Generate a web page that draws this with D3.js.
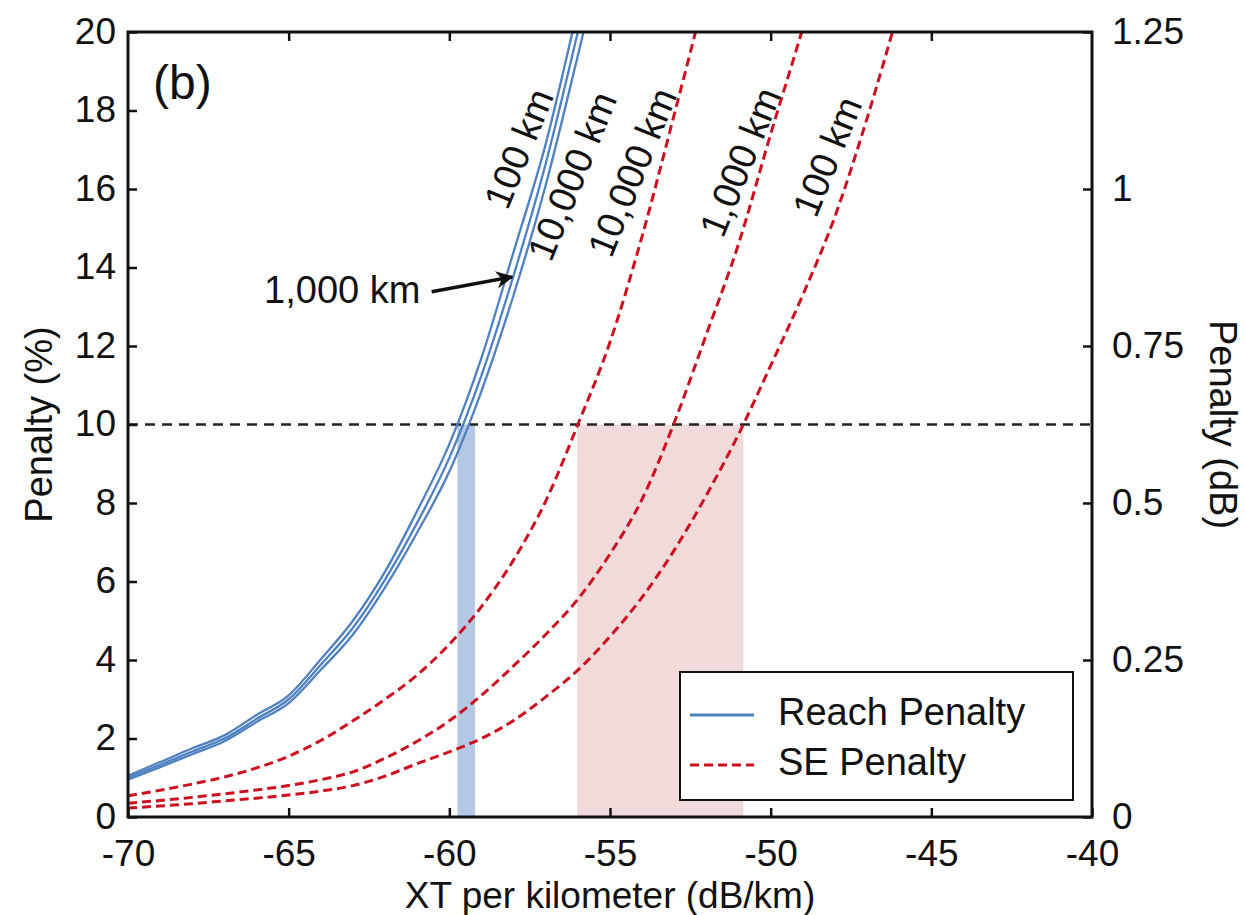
<!DOCTYPE html>
<html>
<head>
<meta charset="utf-8">
<script src="https://cdn.jsdelivr.net/npm/d3@7"></script>
<style>
  body { margin: 0; background: #fff; }
  svg text { font-family: "Liberation Sans", Arial, sans-serif; fill: #111; }
</style>
</head>
<body>
<div id="myChart"></div>
<script>
// XT per km values where curves are sampled
var xtValues = [-70, -69, -68, -67, -66, -65, -64, -63, -62, -61, -60, -59, -58, -57, -56, -55, -54, -53, -52, -51, -50, -49, -48, -47, -46, -45];

// Reach penalty (%), three lengths (solid blue)
var reach100   = [1.05, 1.40, 1.75, 2.08, 2.60, 3.10, 4.02, 5.00, 6.25, 7.80, 9.50, 11.70, 14.40, 17.15, 20.60, 24.2, 28, 32, 36, 40, 44, 48, 52, 56, 60, 64];
var reach1000  = [1.00, 1.33, 1.67, 2.00, 2.50, 3.00, 3.88, 4.82, 6.05, 7.50, 9.15, 11.25, 13.80, 16.65, 20.00, 23.5, 27, 31, 35, 39, 43, 47, 51, 55, 59, 63];
var reach10000 = [0.95, 1.27, 1.60, 1.93, 2.42, 2.90, 3.75, 4.65, 5.85, 7.25, 8.80, 10.85, 13.30, 16.10, 19.40, 22.8, 26, 30, 34, 38, 42, 46, 50, 54, 58, 62];

// SE penalty (%), three lengths (dashed red)
var se10000 = [0.54, 0.68, 0.84, 1.02, 1.25, 1.55, 1.95, 2.45, 3.00, 3.62, 4.40, 5.36, 6.55, 8.05, 10.00, 12.10, 14.80, 17.90, 21.10, 24.5, 28, 32, 36, 40, 44, 48];
var se1000  = [0.35, 0.42, 0.50, 0.59, 0.69, 0.80, 0.95, 1.15, 1.50, 1.93, 2.45, 3.10, 3.85, 4.65, 5.55, 6.70, 8.10, 10.05, 12.30, 14.60, 17.40, 20.10, 23.0, 26, 29, 32];
var se100   = [0.23, 0.28, 0.34, 0.41, 0.48, 0.56, 0.66, 0.80, 1.04, 1.36, 1.66, 2.00, 2.46, 3.06, 3.74, 4.60, 5.60, 6.80, 8.20, 9.75, 11.50, 13.30, 15.30, 17.80, 20.60, 23.5];

var xTicks = [-70, -65, -60, -55, -50, -45, -40];
var yTicks = [0, 2, 4, 6, 8, 10, 12, 14, 16, 18, 20];
var dbTicks = [0, 0.25, 0.5, 0.75, 1, 1.25];
var dbTickLabels = ["0", "0.25", "0.5", "0.75", "1", "1.25"];

var threshold = 10;
var reachBand = [-59.75, -59.2];
var seBand = [-56.02, -50.85];

// curve labels: [text, xt, penalty]
var curveLabels = [
  ["100 km", -57.75, 17.0],
  ["10,000 km", -56.09, 16.3],
  ["10,000 km", -54.22, 16.4],
  ["1,000 km", -50.86, 16.66],
  ["100 km", -48.15, 16.8]
];

var blue = "#4f80c0";
var red = "#cc1020";

var width = 1246, height = 915;
var margin = {left: 128, right: 154, top: 32, bottom: 98};

var svg = d3.select("#myChart").append("svg")
  .attr("width", width)
  .attr("height", height);

var x = d3.scaleLinear().domain([-70, -40]).range([margin.left, width - margin.right]);
var y = d3.scaleLinear().domain([0, 20]).range([height - margin.bottom, margin.top]);
var yDb = d3.scaleLinear().domain([0, 1.25]).range([height - margin.bottom, margin.top]);

svg.append("clipPath").attr("id", "plotClip")
  .append("rect")
  .attr("x", x(-70)).attr("y", y(20))
  .attr("width", x(-40) - x(-70)).attr("height", y(0) - y(20));

var plot = svg.append("g").attr("clip-path", "url(#plotClip)");

// shaded bands below threshold
plot.append("rect")
  .attr("x", x(seBand[0])).attr("y", y(threshold))
  .attr("width", x(seBand[1]) - x(seBand[0]))
  .attr("height", y(0) - y(threshold))
  .attr("fill", "#f0dada");
plot.append("rect")
  .attr("x", x(reachBand[0])).attr("y", y(threshold))
  .attr("width", x(reachBand[1]) - x(reachBand[0]))
  .attr("height", y(0) - y(threshold))
  .attr("fill", "#b4c8e4");

// threshold line
plot.append("line")
  .attr("x1", x(-70)).attr("x2", x(-40))
  .attr("y1", y(threshold)).attr("y2", y(threshold))
  .attr("stroke", "#222").attr("stroke-width", 2.5)
  .attr("stroke-dasharray", "10,7");

var line = d3.line()
  .x(function(d, i) { return x(xtValues[i]); })
  .y(function(d) { return y(d); })
  .curve(d3.curveMonotoneX);

[se10000, se1000, se100].forEach(function(s) {
  plot.append("path")
    .attr("d", line(s))
    .attr("fill", "none")
    .attr("stroke", red).attr("stroke-width", 3)
    .attr("stroke-dasharray", "9,5");
});

[reach100, reach1000, reach10000].forEach(function(s) {
  plot.append("path")
    .attr("d", line(s))
    .attr("fill", "none")
    .attr("stroke", blue).attr("stroke-width", 2.3);
});

// axes frame
var axisColor = "#111";
function plain(d) { return String(d); } // keep the plain hyphen minus
function styleAxis(g) {
  g.select(".domain").remove();
  g.selectAll(".tick line").attr("stroke", axisColor).attr("stroke-width", 2.5);
  g.selectAll(".tick text").attr("font-size", 37).attr("fill", "#222");
}

svg.append("g")
  .attr("transform", "translate(0," + y(0) + ")")
  .call(d3.axisBottom(x).tickValues(xTicks).tickSize(-9).tickPadding(20).tickFormat(plain))
  .call(styleAxis)
  .selectAll(".tick text").attr("dy", "0.78em");

svg.append("g")
  .attr("transform", "translate(0," + y(20) + ")")
  .call(d3.axisTop(x).tickValues(xTicks.slice(1, -1)).tickSize(-9).tickFormat(""))
  .call(styleAxis);

svg.append("g")
  .attr("transform", "translate(" + x(-70) + ",0)")
  .call(d3.axisLeft(y).tickValues(yTicks).tickSize(-9).tickPadding(12).tickFormat(plain))
  .call(styleAxis)
  .selectAll(".tick text").attr("dy", "0.3em");

svg.append("g")
  .attr("transform", "translate(" + x(-40) + ",0)")
  .call(d3.axisRight(yDb).tickValues(dbTicks).tickSize(-9).tickPadding(20)
    .tickFormat(function(d, i) { return dbTickLabels[i]; }))
  .call(styleAxis)
  .selectAll(".tick text").attr("dy", "0.3em");

svg.append("rect")
  .attr("x", x(-70)).attr("y", y(20))
  .attr("width", x(-40) - x(-70)).attr("height", y(0) - y(20))
  .attr("fill", "none").attr("stroke", axisColor).attr("stroke-width", 3);

// axis titles
svg.append("text")
  .attr("x", (x(-70) + x(-40)) / 2).attr("y", 908)
  .attr("text-anchor", "middle").attr("font-size", 37)
  .text("XT per kilometer (dB/km)");

svg.append("text")
  .attr("transform", "translate(52," + y(10) + ") rotate(-90)")
  .attr("text-anchor", "middle").attr("font-size", 38)
  .text("Penalty (%)");

svg.append("text")
  .attr("transform", "translate(1210," + y(10) + ") rotate(90)")
  .attr("text-anchor", "middle").attr("font-size", 38)
  .text("Penalty (dB)");

// panel label
svg.append("text")
  .attr("x", x(-70) + 25).attr("y", y(20) + 67)
  .attr("font-size", 48)
  .text("(b)");

// curve labels
curveLabels.forEach(function(l) {
  svg.append("text")
    .attr("transform", "translate(" + x(l[1]) + "," + y(l[2]) + ") rotate(-68)")
    .attr("text-anchor", "middle").attr("dominant-baseline", "middle")
    .attr("font-size", 38)
    .text(l[0]);
});

// 1,000 km arrow annotation
svg.append("defs").append("marker")
  .attr("id", "arrowHead")
  .attr("viewBox", "0 0 10 10").attr("refX", 9).attr("refY", 5)
  .attr("markerWidth", 5).attr("markerHeight", 5)
  .attr("orient", "auto")
  .append("path").attr("d", "M0,0 L10,5 L0,10 L3,5 Z").attr("fill", "#111");

svg.append("text")
  .attr("x", x(-60.9)).attr("y", y(13.35))
  .attr("text-anchor", "end").attr("dominant-baseline", "middle")
  .attr("font-size", 38)
  .text("1,000 km");

svg.append("line")
  .attr("x1", x(-60.55)).attr("y1", y(13.38))
  .attr("x2", x(-58.05)).attr("y2", y(13.76))
  .attr("stroke", "#111").attr("stroke-width", 3.5)
  .attr("marker-end", "url(#arrowHead)");

// legend
var legend = svg.append("g").attr("transform", "translate(680,672)");
legend.append("rect")
  .attr("width", 393).attr("height", 128)
  .attr("fill", "#fff").attr("stroke", "#111").attr("stroke-width", 2);
legend.append("line")
  .attr("x1", 10).attr("x2", 74).attr("y1", 43).attr("y2", 43)
  .attr("stroke", blue).attr("stroke-width", 3);
legend.append("line")
  .attr("x1", 10).attr("x2", 74).attr("y1", 93).attr("y2", 93)
  .attr("stroke", red).attr("stroke-width", 3)
  .attr("stroke-dasharray", "9,5");
legend.append("text")
  .attr("x", 98).attr("y", 43).attr("dominant-baseline", "middle")
  .attr("font-size", 38).text("Reach Penalty");
legend.append("text")
  .attr("x", 98).attr("y", 93).attr("dominant-baseline", "middle")
  .attr("font-size", 38).text("SE Penalty");
</script>
</body>
</html>
